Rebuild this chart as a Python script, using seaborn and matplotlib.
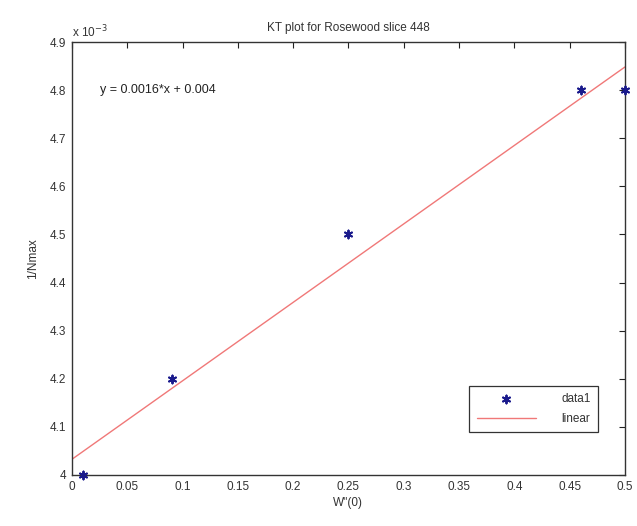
import numpy as np
import pandas as pd
import matplotlib
matplotlib.use("Agg")
import matplotlib.pyplot as plt
import seaborn as sns
from matplotlib.ticker import FuncFormatter

# data
w_values = [0.01, 0.09, 0.25, 0.46, 0.50]
inv_nmax = [4.0e-3, 4.2e-3, 4.5e-3, 4.8e-3, 4.8e-3]
x_ticks = [0, 0.05, 0.1, 0.15, 0.2, 0.25, 0.3, 0.35, 0.4, 0.45, 0.5]
y_ticks = [4.0e-3, 4.1e-3, 4.2e-3, 4.3e-3, 4.4e-3, 4.5e-3, 4.6e-3, 4.7e-3, 4.8e-3, 4.9e-3]
title = "KT plot for Rosewood slice 448"
equation = "y = 0.0016*x + 0.004"

sns.set_theme(style="white")
plt.rcParams['font.family'] = ['Liberation Sans', 'DejaVu Sans']

df = pd.DataFrame({"x": w_values, "y": inv_nmax})
slope, intercept = np.polyfit(w_values, inv_nmax, 1)
fit_x = [x_ticks[0], x_ticks[-1]]
fit_df = pd.DataFrame({"x": fit_x, "y": [slope * v + intercept for v in fit_x]})

fig = plt.figure(figsize=(6.37, 5.26), dpi=100)
ax = fig.add_axes([0.113, 0.097, 0.868, 0.823])

sns.lineplot(data=fit_df, x="x", y="y", ax=ax, color="#f07878", linewidth=1.0, label="linear")
sns.scatterplot(data=df, x="x", y="y", ax=ax, marker=(6, 2, 0), s=32, color="#1a1a8c",
                edgecolor="#1a1a8c", linewidth=1.4, label="data1", zorder=5, clip_on=False)

ax.set_xlim(0, 0.5)
ax.set_ylim(4.0e-3, 4.9e-3)
ax.set_xticks(x_ticks)
ax.set_yticks(y_ticks)
ax.xaxis.set_major_formatter(FuncFormatter(lambda v, p: f"{v:g}"))
ax.yaxis.set_major_formatter(FuncFormatter(lambda v, p: f"{v*1000:g}"))
ax.tick_params(direction="in", length=4, width=0.8, top=True, right=True,
               labelsize=8.5, colors="#222222", pad=4)
ax.tick_params(axis="both", which="both", labelcolor="#333333")
for s in ax.spines.values():
    s.set_color("#333333")
    s.set_linewidth(1.0)

ax.set_xlabel("W''(0)", fontsize=8.5, color="#333333", labelpad=3)
ax.set_ylabel("1/Nmax", fontsize=8.5, color="#333333", labelpad=8)
ax.set_title(title, fontsize=8.5, color="#333333", pad=8)
ax.text(0.0, 1.005, r"x 10$^{-3}$", transform=ax.transAxes, fontsize=8.5, color="#333333",
        ha="left", va="bottom")
ax.text(0.025, 4.8e-3, equation, fontsize=9, color="#222222", va="center", ha="left")

handles, labels = ax.get_legend_handles_labels()
order = [labels.index("data1"), labels.index("linear")]
leg = ax.legend([handles[i] for i in order], [labels[i] for i in order],
                loc="lower right", bbox_to_anchor=(0.962, 0.085), fontsize=8.5,
                frameon=True, fancybox=False, edgecolor="#333333", framealpha=1,
                handlelength=5.0, handletextpad=2.2, borderpad=0.6, labelspacing=0.7,
                markerfirst=True)
leg.get_frame().set_linewidth(0.9)
for t in leg.get_texts():
    t.set_color("#333333")

fig.savefig("out.png", dpi=100, facecolor="white")
